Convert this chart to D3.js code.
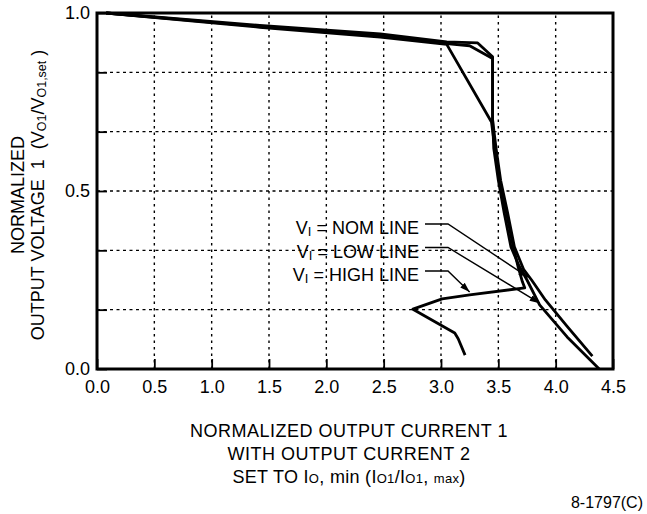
<!DOCTYPE html>
<html>
<head>
<meta charset="utf-8">
<script src="https://cdn.jsdelivr.net/npm/d3@7"></script>
<style>
body{margin:0;background:#fff;}
text{font-family:"Liberation Sans",Arial,Helvetica,sans-serif;fill:#000;}
</style>
</head>
<body>
<svg id="chart" width="647" height="514"></svg>
<script>
// axis ticks
const xTicks = [0, 0.5, 1, 1.5, 2, 2.5, 3, 3.5, 4, 4.5];
const xTickLabels = ["0.0", "0.5", "1.0", "1.5", "2.0", "2.5", "3.0", "3.5", "4.0", "4.5"];
const yTicks = [0, 1/6, 2/6, 3/6, 4/6, 5/6, 1];
const yTickLabels = ["0.0", "", "", "0.5", "", "", "1.0"];

// curves [Io1/Io1,max , Vo1/Vo1,set]
const nomLine = [[0.08,1.0],[1.42,0.965],[2.47,0.941],[3.05,0.919],[3.32,0.916],[3.45,0.877],[3.45,0.70],
  [3.48,0.62],[3.52,0.53],[3.58,0.44],[3.64,0.343],[3.72,0.28],[3.79,0.25],[3.91,0.194],[4.10,0.12],[4.32,0.036]];
const lowLine = [[0.08,1.0],[1.42,0.962],[2.47,0.936],[3.05,0.914],[3.25,0.908],[3.45,0.872],[3.45,0.70],
  [3.46,0.62],[3.50,0.53],[3.55,0.44],[3.61,0.343],[3.68,0.29],[3.75,0.25],[3.86,0.18],[4.10,0.09],[4.38,0.0]];
const highLine = [[0.08,1.0],[1.42,0.960],[2.47,0.932],[3.05,0.912],[3.44,0.694],[3.47,0.62],[3.51,0.53],
  [3.57,0.44],[3.63,0.343],[3.67,0.29],[3.71,0.245],[3.73,0.228],[3.25,0.208],[3.01,0.197],[2.755,0.168],
  [3.12,0.101],[3.15,0.085],[3.21,0.039]];

// legend labels and where their arrows point
const legendNames = ["NOM LINE", "LOW LINE", "HIGH LINE"];
const arrowTargets = [[3.76,0.258],[3.86,0.185],[3.25,0.216]];

const svgW = 647, svgH = 514;
const margin = {top: 13, right: 34, bottom: 145, left: 97};
const svg = d3.select("#chart");

const x = d3.scaleLinear().domain([0, 4.5]).range([margin.left, svgW - margin.right]);
const y = d3.scaleLinear().domain([0, 1]).range([svgH - margin.bottom, margin.top]);

// dotted grid
svg.append("g")
  .selectAll("line")
  .data(xTicks.slice(1, -1))
  .enter()
  .append("line")
  .attr("x1", d => x(d)).attr("x2", d => x(d))
  .attr("y1", y(0)).attr("y2", y(1))
  .attr("stroke", "#000").attr("stroke-width", 1.4)
  .attr("stroke-dasharray", "2.5,4");
svg.append("g")
  .selectAll("line")
  .data(yTicks.slice(1, -1))
  .enter()
  .append("line")
  .attr("x1", x(0)).attr("x2", x(4.5))
  .attr("y1", d => y(d)).attr("y2", d => y(d))
  .attr("stroke", "#000").attr("stroke-width", 1.4)
  .attr("stroke-dasharray", "3,3.5");

// axes with short inner ticks
const axisX = svg.append("g")
  .attr("transform", `translate(0,${y(0)})`)
  .call(d3.axisBottom(x).tickValues(xTicks).tickSize(-10).tickSizeOuter(0).tickPadding(11)
    .tickFormat((d, i) => xTickLabels[i]));
const axisY = svg.append("g")
  .attr("transform", `translate(${x(0)},0)`)
  .call(d3.axisLeft(y).tickValues(yTicks).tickSize(-10).tickSizeOuter(0).tickPadding(7)
    .tickFormat((d, i) => yTickLabels[i]));
[axisX, axisY].forEach(a => {
  a.select(".domain").remove();
  a.selectAll(".tick line").attr("stroke", "#000").attr("stroke-width", 1.8);
  a.selectAll(".tick text").attr("font-size", 18).attr("font-family", null).attr("fill", "#000");
});

// curves
const line = d3.line().x(d => x(d[0])).y(d => y(d[1]));
svg.append("g")
  .selectAll("path")
  .data([nomLine, lowLine, highLine])
  .enter()
  .append("path")
  .attr("d", line)
  .attr("fill", "none")
  .attr("stroke", "#000")
  .attr("stroke-width", 2.8)
  .attr("stroke-linejoin", "round");

// frame
svg.append("rect")
  .attr("x", x(0)).attr("y", y(1))
  .attr("width", x(4.5) - x(0)).attr("height", y(0) - y(1))
  .attr("fill", "none").attr("stroke", "#000").attr("stroke-width", 3);

// text with sub/small parts
function richText(sel, parts, size, subSize) {
  parts.forEach(p => {
    const t = sel.append("tspan").text(p[0]);
    if (p[1] === "sub") {
      t.attr("font-size", subSize).attr("dy", 2);
    } else if (p[1] === "small") {
      t.attr("font-size", subSize);
    }
    if (p[2]) t.attr("dy", p[2]);
  });
}

// legend with leaders
svg.append("defs").append("marker")
  .attr("id", "arrow")
  .attr("viewBox", "0 -4 10 8")
  .attr("refX", 10).attr("refY", 0)
  .attr("markerUnits", "userSpaceOnUse")
  .attr("markerWidth", 10).attr("markerHeight", 8)
  .attr("orient", "auto")
  .append("path").attr("d", "M0,-3.2L10,0L0,3.2Z").attr("fill", "#000");

const legendRight = 419, legendTop = 234, legendStep = 23.5;
legendNames.forEach((name, i) => {
  const base = legendTop + i * legendStep;
  const t = svg.append("text")
    .attr("x", legendRight).attr("y", base)
    .attr("text-anchor", "end")
    .attr("font-size", 18)
    .style("white-space", "pre");
  richText(t, [["V"], ["I", "sub"], [" = " + name, null, -2]], 18, 13);
  const ly = base - 10;
  svg.append("path")
    .attr("d", `M${legendRight + 6},${ly}L${legendRight + 29},${ly}L${x(arrowTargets[i][0])},${y(arrowTargets[i][1])}`)
    .attr("fill", "none")
    .attr("stroke", "#000")
    .attr("stroke-width", 1.4)
    .attr("marker-end", "url(#arrow)");
});

// y title
const yTitle = svg.append("g").attr("transform", "translate(24,195) rotate(-90)");
yTitle.append("text").attr("text-anchor", "middle").attr("font-size", 18).text("NORMALIZED");
const yt2 = yTitle.append("text").attr("y", 20).attr("text-anchor", "middle")
  .attr("font-size", 18).style("white-space", "pre");
richText(yt2, [["OUTPUT VOLTAGE  1  (V"], ["O1", "sub"], ["/V", null, -2], ["O1,set", "sub"], [" )", null, -2]], 18, 12.5);

// x title
const cx = (x(0) + x(4.5)) / 2 - 6;
svg.append("text").attr("x", cx).attr("y", 437).attr("text-anchor", "middle")
  .attr("font-size", 18).attr("letter-spacing", 0.5).text("NORMALIZED OUTPUT CURRENT 1");
svg.append("text").attr("x", cx).attr("y", 460).attr("text-anchor", "middle")
  .attr("font-size", 18).attr("letter-spacing", 0.5).text("WITH OUTPUT CURRENT 2");
const xt3 = svg.append("text").attr("x", cx).attr("y", 483).attr("text-anchor", "middle")
  .attr("font-size", 18).attr("letter-spacing", 0.3).style("white-space", "pre");
richText(xt3, [["SET TO I"], ["O", "small"], [", min (I"], ["O1", "small"], ["/I"], ["O1", "small"], [", "], ["max", "small"], [")"]], 18, 13);

svg.append("text").attr("x", 643).attr("y", 508).attr("text-anchor", "end")
  .attr("font-size", 16).text("8-1797(C)");
</script>
</body>
</html>
